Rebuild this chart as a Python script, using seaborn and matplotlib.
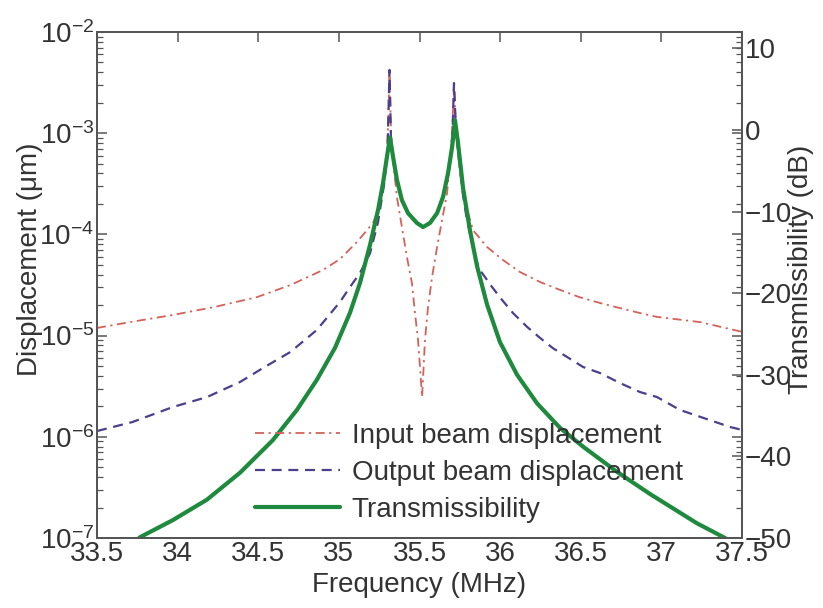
import numpy as np
import pandas as pd
import matplotlib
matplotlib.use("Agg")
import matplotlib.pyplot as plt
import matplotlib.ticker as mticker
import seaborn as sns

# Input beam displacement (um) vs frequency (MHz)
in_freq = [33.500, 33.705, 33.971, 34.23, 34.492, 34.70, 34.902, 35.007, 35.112, 35.212,
           35.243, 35.274, 35.298, 35.308, 35.314, 35.323, 35.336, 35.360, 35.391, 35.422,
           35.453, 35.472, 35.491, 35.503, 35.516, 35.534, 35.553, 35.578, 35.609, 35.640,
           35.671, 35.695, 35.708, 35.714, 35.726, 35.739, 35.770, 35.832, 35.919, 36.018,
           36.123, 36.247, 36.371, 36.491, 36.619, 36.743, 36.867, 36.973, 37.240, 37.500]
in_disp = [1.19e-5, 1.36e-5, 1.60e-5, 1.92e-5, 2.40e-5, 3.16e-5, 4.45e-5, 5.71e-5, 8.4e-5, 1.30e-4,
           1.74e-4, 3.22e-4, 6.1e-4, 1.69e-3, 4.22e-3, 1.08e-3, 5.4e-4, 2.34e-4, 1.18e-4, 5.98e-5,
           3.31e-5, 1.67e-5, 9.05e-6, 4.9e-6, 2.47e-6, 9.05e-6, 1.92e-5, 3.79e-5, 7.5e-5, 1.39e-4,
           2.57e-4, 6.8e-4, 1.69e-3, 3.13e-3, 1.08e-3, 6.1e-4, 2.45e-4, 1.10e-4, 7.5e-5, 5.58e-5,
           4.25e-5, 3.39e-5, 2.83e-5, 2.40e-5, 2.10e-5, 1.87e-5, 1.67e-5, 1.53e-5, 1.36e-5, 1.09e-5]

# Output beam displacement (um) vs frequency (MHz)
out_freq = [33.500, 33.72, 33.971, 34.182, 34.387, 34.53, 34.70, 34.864, 35.007, 35.069,
            35.131, 35.193, 35.243, 35.280, 35.302, 35.314, 35.323, 35.336, 35.360, 35.391,
            35.429, 35.484, 35.522, 35.565, 35.609, 35.646, 35.677, 35.702, 35.714, 35.726,
            35.739, 35.770, 35.789, 35.844, 35.875, 35.950, 36.012, 36.080, 36.167, 36.247,
            36.328, 36.415, 36.514, 36.619, 36.743, 36.867, 36.973, 37.116, 37.426, 37.500]
out_disp = [1.14e-6, 1.40e-6, 1.97e-6, 2.47e-6, 3.48e-6, 4.79e-6, 6.9e-6, 1.14e-5, 2.15e-5, 3.02e-5,
            4.16e-5, 6.5e-5, 1.33e-4, 3.08e-4, 6.8e-4, 4.22e-3, 8.6e-4, 5.8e-4, 3.45e-4, 2.19e-4,
            1.63e-4, 1.30e-4, 1.18e-4, 1.30e-4, 1.63e-4, 2.34e-4, 4.05e-4, 7.3e-4, 3.13e-3, 1.08e-3,
            6.8e-4, 2.45e-4, 1.56e-4, 5.98e-5, 4.45e-5, 3.02e-5, 2.25e-5, 1.67e-5, 1.22e-5, 9.5e-6,
            7.5e-6, 6.15e-6, 4.9e-6, 4.27e-6, 3.40e-6, 2.77e-6, 2.47e-6, 1.84e-6, 1.25e-6, 1.17e-6]

# Transmissibility (dB) vs frequency (MHz)
tr_freq = [33.748, 33.767, 33.971, 34.182, 34.387, 34.591, 34.740, 34.864, 34.976, 35.069,
           35.131, 35.193, 35.243, 35.274, 35.298, 35.317, 35.336, 35.360, 35.391, 35.429,
           35.484, 35.522, 35.565, 35.609, 35.646, 35.677, 35.702, 35.720, 35.739, 35.770,
           35.813, 35.857, 35.919, 35.999, 36.105, 36.229, 36.371, 36.514, 36.725, 36.929,
           37.221, 37.395, 37.419]
tr_db = [-50.25, -49.9, -47.8, -45.3, -42.0, -38.0, -34.3, -30.6, -26.7, -22.4,
         -18.75, -14.1, -9.8, -6.5, -3.3, -0.9, -3.3, -6.1, -8.6, -10.2,
         -11.4, -11.9, -11.4, -10.2, -8.2, -5.3, -2.1, 1.2, -1.6, -7.1,
         -12.3, -16.7, -21.4, -26.0, -30.0, -33.5, -36.5, -38.8, -41.9, -44.6,
         -48.2, -50.0, -50.4]

x_ticks = [33.5, 34, 34.5, 35, 35.5, 36, 36.5, 37, 37.5]
db_ticks = [-50, -40, -30, -20, -10, 0, 10]

sns.set_style("white")
plt.rcParams["font.family"] = ["Liberation Sans", "DejaVu Sans"]
plt.rcParams["mathtext.fontset"] = "custom"
plt.rcParams["mathtext.rm"] = "Liberation Sans"
plt.rcParams["axes.unicode_minus"] = True

TXT = "#333333"
FS = 20

fig = plt.figure(figsize=(8.23, 6.08), dpi=100)
ax = fig.add_axes([97 / 823, 1 - 538 / 608, 645 / 823, 506 / 608])
ax2 = ax.twinx()

df_in = pd.DataFrame({"f": in_freq, "v": in_disp})
df_out = pd.DataFrame({"f": out_freq, "v": out_disp})
df_tr = pd.DataFrame({"f": tr_freq, "v": tr_db})

sns.lineplot(data=df_in, x="f", y="v", ax=ax, color="#d4625a", lw=1.3,
             linestyle=(0, (5, 2.5, 1.2, 2.5)), label="Input beam displacement",
             legend=False)
sns.lineplot(data=df_out, x="f", y="v", ax=ax, color="#4c3f8f", lw=1.6,
             linestyle=(0, (4.5, 3)), label="Output beam displacement",
             legend=False)
sns.lineplot(data=df_tr, x="f", y="v", ax=ax2, color="#1e8a3e", lw=3.0,
             label="Transmissibility", legend=False)

ax.set_yscale("log")
ax.set_xlim(33.5, 37.5)
ax.set_ylim(1e-7, 1e-2)
ax2.set_ylim(-50, 12)

ax.set_xticks(x_ticks)
ax.set_xticklabels([f"{t:g}" for t in x_ticks])
ax.yaxis.set_major_locator(mticker.LogLocator(base=10, numticks=10))
ax.yaxis.set_minor_locator(mticker.LogLocator(base=10, subs=np.arange(2, 10), numticks=20))
ax.yaxis.set_minor_formatter(mticker.NullFormatter())
ax2.set_yticks(db_ticks)
ax2.set_yticklabels([f"{t:d}".replace("-", "\u2212") for t in db_ticks])

for a in (ax, ax2):
    for s in a.spines.values():
        s.set_color("#555555")
        s.set_linewidth(1.4)
ax.tick_params(axis="both", which="both", direction="in", top=True, right=True,
               colors="#555555", labelcolor=TXT, labelsize=FS)
ax.tick_params(which="major", length=7, width=1.1)
ax.tick_params(which="minor", length=4, width=0.9)
ax.tick_params(axis="x", pad=2)
ax.tick_params(axis="y", pad=2)
ax2.tick_params(axis="y", direction="in", length=7, width=1.1, colors="#555555",
                labelcolor=TXT, labelsize=FS, pad=2)

ax.set_xlabel("Frequency (MHz)", fontsize=FS, color=TXT)
ax.xaxis.set_label_coords(0.5, -0.068)
ax.set_ylabel("Displacement (\u03bcm)", fontsize=FS, color=TXT)
ax.yaxis.set_label_coords(-0.083, 0.55)
ax2.set_ylabel("Transmissibility (dB)", fontsize=FS, color=TXT)
ax2.yaxis.set_label_coords(1.072, 0.53)

handles = ax.get_lines()[:2] + ax2.get_lines()[:1]
labels = ["Input beam displacement", "Output beam displacement", "Transmissibility"]
leg = ax2.legend(handles, labels, loc="lower left", bbox_to_anchor=(0.245, 0.03),
                 frameon=False, fontsize=FS, handlelength=3.05, handletextpad=0.43,
                 labelspacing=0.4, borderaxespad=0.0, borderpad=0.0)
for t in leg.get_texts():
    t.set_color(TXT)

fig.savefig("out.png", dpi=100, facecolor="white")
